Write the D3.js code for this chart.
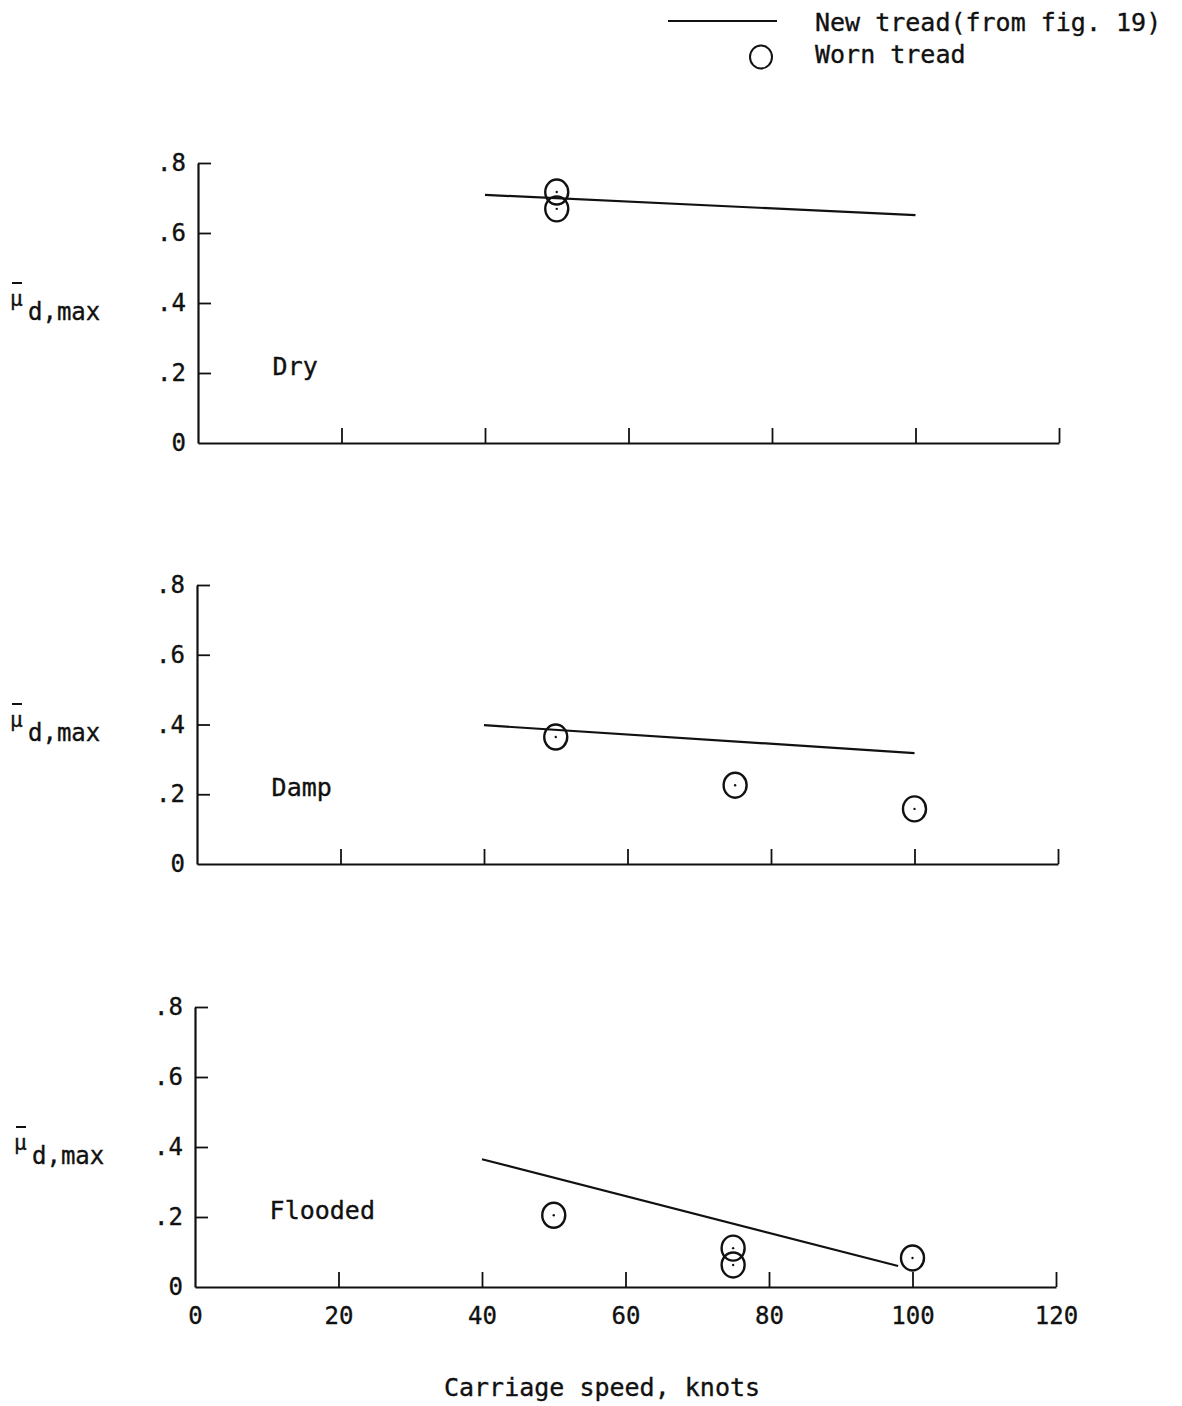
<!DOCTYPE html>
<html>
<head>
<meta charset="utf-8">
<script src="https://cdn.jsdelivr.net/npm/d3@7/dist/d3.min.js"></script>
<style>
  html, body { margin: 0; padding: 0; background: #fff; }
  svg text { font-family: "DejaVu Sans Mono", monospace; fill: #111; stroke: #111; stroke-width: 0.35px; }
</style>
</head>
<body>
<svg id="chart" width="1182" height="1406"></svg>
<script>
// Axis tick values
const speedTicks = [0, 20, 40, 60, 80, 100, 120];
const frictionTicks = [0, 0.2, 0.4, 0.6, 0.8];

// Surface conditions, one panel each
const surfaces = ["Dry", "Damp", "Flooded"];

// New tread fairing (from fig. 19): speed (knots) and mu_d,max
const newTreadSpeedDry = [40, 100];
const newTreadDry = [0.709, 0.651];
const newTreadSpeedDamp = [40, 100];
const newTreadDamp = [0.398, 0.318];
const newTreadSpeedFlooded = [40, 98];
const newTreadFlooded = [0.365, 0.060];

// Worn tread test points
const wornSpeedDry = [50, 50];
const wornDry = [0.717, 0.669];
const wornSpeedDamp = [50, 75, 100];
const wornDamp = [0.364, 0.226, 0.158];
const wornSpeedFlooded = [50, 75, 75, 100];
const wornFlooded = [0.205, 0.111, 0.063, 0.083];

const newTread = [
  [newTreadSpeedDry, newTreadDry],
  [newTreadSpeedDamp, newTreadDamp],
  [newTreadSpeedFlooded, newTreadFlooded]
];
const wornTread = [
  [wornSpeedDry, wornDry],
  [wornSpeedDamp, wornDamp],
  [wornSpeedFlooded, wornFlooded]
];

const svg = d3.select("#chart");
const ink = "#111";

// Panel frames: left edge of y axis, top (0.8) and bottom (0) pixel rows
const panels = [
  { left: 198, top: 163, bottom: 443 },
  { left: 197, top: 585, bottom: 864 },
  { left: 195, top: 1007, bottom: 1287 }
];
const plotWidth = 861;

const fmtY = v => v === 0 ? "0" : d3.format(".1f")(v).replace(/^0/, "");

panels.forEach((p, i) => {
  const g = svg.append("g").attr("transform", `translate(${p.left},0)`);
  const x = d3.scaleLinear().domain([0, 120]).range([0, plotWidth]);
  const y = d3.scaleLinear().domain([0, 0.8]).range([p.bottom, p.top]);
  const last = i === panels.length - 1;

  // x axis with inward ticks
  const xAxis = d3.axisBottom(x)
    .tickValues(speedTicks)
    .tickSizeInner(-15)
    .tickSizeOuter(0)
    .tickPadding(20)
    .tickFormat(last ? d3.format("d") : () => "");
  const xg = g.append("g")
    .attr("transform", `translate(0,${p.bottom})`)
    .call(xAxis);
  xg.attr("font-family", null);
  xg.select(".domain").attr("stroke", ink).attr("stroke-width", 2.2);
  xg.selectAll(".tick line").attr("stroke", ink).attr("stroke-width", 1.8);
  xg.selectAll(".tick text")
    .attr("font-size", 24)
    .style("fill", ink);
  xg.selectAll(".tick").filter(d => d === 0).select("line").remove();

  // y axis with inward ticks
  const yAxis = d3.axisLeft(y)
    .tickValues(frictionTicks)
    .tickSizeInner(-13)
    .tickSizeOuter(0)
    .tickPadding(12)
    .tickFormat(fmtY);
  const yg = g.append("g").call(yAxis);
  yg.attr("font-family", null);
  yg.select(".domain").attr("stroke", ink).attr("stroke-width", 2.2);
  yg.selectAll(".tick line").attr("stroke", ink).attr("stroke-width", 1.8);
  yg.selectAll(".tick").filter(d => d === 0).select("line").remove();
  yg.selectAll(".tick text")
    .attr("font-size", 24)
    .style("fill", ink);

  // y axis label: mu-bar with subscript d,max
  const lab = svg.append("g")
    .attr("transform", `translate(${i === 2 ? 4 : 0},${(p.bottom - 443)})`);
  lab.append("text").attr("x", 10).attr("y", 306)
    .attr("font-size", 21).text("\u03bc");
  lab.append("line").attr("x1", 12).attr("x2", 22)
    .attr("y1", 283).attr("y2", 283)
    .attr("stroke", ink).attr("stroke-width", 2);
  lab.append("text").attr("x", 28).attr("y", 320)
    .attr("font-size", 24).text("d,max");

  // surface condition label
  g.append("text")
    .attr("x", x(10.4))
    .attr("y", y(0.2) + 2)
    .attr("font-size", 25)
    .text(surfaces[i]);

  // new tread fairing
  const [ns, nv] = newTread[i];
  const lineData = ns.map((s, k) => [s, nv[k]]);
  g.append("path")
    .datum(lineData)
    .attr("fill", "none")
    .attr("stroke", ink)
    .attr("stroke-width", 2.2)
    .attr("d", d3.line().x(d => x(d[0])).y(d => y(d[1])));

  // worn tread points
  const [ws, wv] = wornTread[i];
  const pts = ws.map((s, k) => ({ s, v: wv[k] }));
  const pg = g.selectAll("g.pt").data(pts).join("g")
    .attr("class", "pt")
    .attr("transform", d => `translate(${x(d.s)},${y(d.v)})`);
  pg.append("ellipse")
    .attr("rx", 11.5).attr("ry", 12.5)
    .attr("fill", "none")
    .attr("stroke", ink)
    .attr("stroke-width", 2.4);
  pg.append("circle").attr("r", 1.2).attr("fill", ink);
});

// x axis title
svg.append("text")
  .attr("x", 602).attr("y", 1396)
  .attr("text-anchor", "middle")
  .attr("font-size", 25)
  .text("Carriage speed, knots");

// legend
const leg = svg.append("g");
leg.append("line").attr("x1", 668).attr("x2", 777)
  .attr("y1", 21).attr("y2", 21)
  .attr("stroke", ink).attr("stroke-width", 2);
leg.append("text").attr("x", 815).attr("y", 31)
  .attr("font-size", 25).text("New tread(from fig. 19)");
leg.append("ellipse").attr("cx", 761).attr("cy", 57)
  .attr("rx", 11).attr("ry", 11.5)
  .attr("fill", "none").attr("stroke", ink).attr("stroke-width", 2);
leg.append("text").attr("x", 815).attr("y", 63)
  .attr("font-size", 25).text("Worn tread");
</script>
</body>
</html>
